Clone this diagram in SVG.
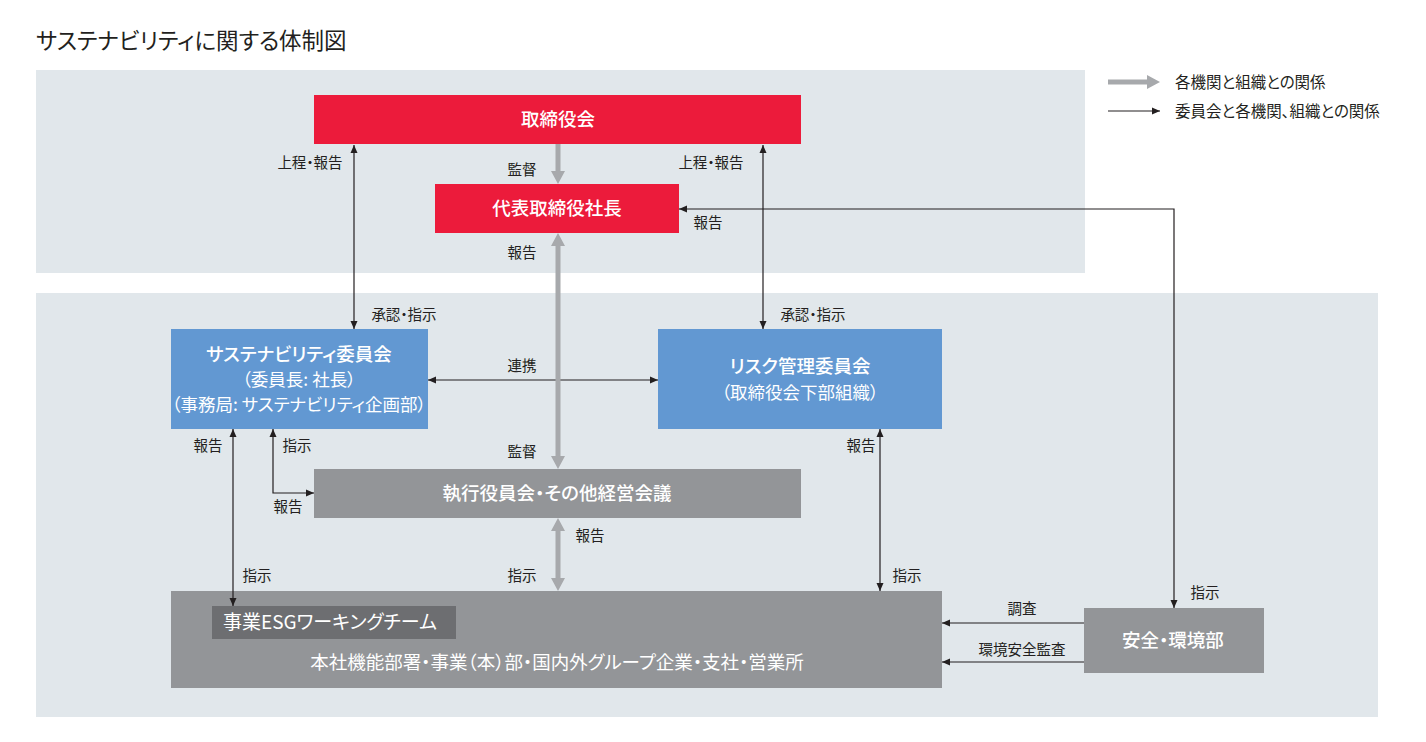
<svg xmlns="http://www.w3.org/2000/svg" width="1426" height="742" viewBox="0 0 1426 742">
<defs>
<style>
text{font-family:"Noto Sans CJK JP","Noto Sans",sans-serif;font-feature-settings:"palt";fill:#231f20}
.lbl{font-size:14.5px;text-anchor:middle}
.bt{font-size:18.5px;fill:#fff;text-anchor:middle;font-weight:500}
.bs{font-size:17.5px;fill:#fff;text-anchor:middle}
.band{fill:#e1e7eb}
.red{fill:#ec1b3b}
.blue{fill:#6298d2}
.gray{fill:#939598}
.dgray{fill:#6d6e71}
.ga{fill:#a7a9ac}
.ln{fill:none;stroke:#231f20;stroke-width:1.2}
</style>
<marker id="ah" markerUnits="userSpaceOnUse" markerWidth="9" markerHeight="8" refX="8" refY="4" orient="auto-start-reverse" viewBox="0 0 9 8">
<path d="M0,0.5 L8,4 L0,7.5 z" fill="#231f20"/>
</marker>
</defs>
<rect width="1426" height="742" fill="#fff"/>
<text x="36" y="49" style="font-size:22.5px">サステナビリティに関する体制図</text>
<rect class="band" x="36" y="70" width="1049" height="203"/>
<rect class="band" x="36" y="293" width="1342" height="424"/>

<g id="legend">
<path class="ga" d="M1108,79.5 H1147 V75 L1160,82 L1147,89 V84.5 H1108 z"/>
<text x="1175" y="88" style="font-size:15.5px">各機関と組織との関係</text>
<line class="ln" x1="1108" y1="111" x2="1160" y2="111" marker-end="url(#ah)"/>
<text x="1175" y="117" style="font-size:15.5px">委員会と各機関、組織との関係</text>
</g>

<g id="board">
<rect class="red" x="314" y="95" width="487" height="49"/>
<text class="bt" x="558" y="126">取締役会</text>
</g>
<g id="president">
<rect class="red" x="435" y="184" width="244" height="49"/>
<text class="bt" x="557" y="215">代表取締役社長</text>
</g>
<g id="sustainability-committee">
<rect class="blue" x="171" y="329" width="257" height="100"/>
<text class="bt" x="299" y="361">サステナビリティ委員会</text>
<text class="bs" x="299" y="386">（委員長: 社長）</text>
<text class="bs" x="299" y="411">（事務局: サステナビリティ企画部）</text>
</g>
<g id="risk-committee">
<rect class="blue" x="658" y="329" width="284" height="100"/>
<text class="bt" x="800" y="373">リスク管理委員会</text>
<text class="bs" x="800" y="399">（取締役会下部組織）</text>
</g>
<g id="executive-meeting">
<rect class="gray" x="314" y="469" width="487" height="49"/>
<text class="bt" x="557" y="500">執行役員会・その他経営会議</text>
</g>
<g id="business-units">
<rect class="gray" x="171" y="591" width="771" height="97"/>
<text class="bs" x="557" y="669" style="font-size:18.5px">本社機能部署・事業（本）部・国内外グループ企業・支社・営業所</text>
</g>
<g id="esg-working-team">
<rect class="dgray" x="212" y="606" width="244" height="33"/>
<text x="223" y="629" style="font-size:19px;fill:#fff">事業ESGワーキングチーム</text>
</g>
<g id="safety-environment">
<rect class="gray" x="1084" y="608" width="180" height="65"/>
<text class="bt" x="1173" y="647">安全・環境部</text>
</g>

<g id="connectors">
<line class="ln" x1="354" y1="145" x2="354" y2="329" marker-start="url(#ah)" marker-end="url(#ah)"/>
<line class="ln" x1="763" y1="145" x2="763" y2="329" marker-start="url(#ah)" marker-end="url(#ah)"/>
<path class="ln" d="M1174,608 V209 H679" marker-start="url(#ah)" marker-end="url(#ah)"/>
<line class="ln" x1="428" y1="380" x2="658" y2="380" marker-start="url(#ah)" marker-end="url(#ah)"/>
<line class="ln" x1="233" y1="429" x2="233" y2="606" marker-start="url(#ah)" marker-end="url(#ah)"/>
<path class="ln" d="M273,429 V493 H314" marker-start="url(#ah)" marker-end="url(#ah)"/>
<line class="ln" x1="880" y1="429" x2="880" y2="591" marker-start="url(#ah)" marker-end="url(#ah)"/>
<line class="ln" x1="1084" y1="623" x2="942" y2="623" marker-end="url(#ah)"/>
<line class="ln" x1="1084" y1="662" x2="942" y2="662" marker-end="url(#ah)"/>
<path class="ga" d="M555.5,144 V171 H551 L558,184 L565,171 H560.5 V144 z"/>
<path class="ga" d="M558,233 L565,246 H560.5 V456 H565 L558,469 L551,456 H555.5 V246 H551 z"/>
<path class="ga" d="M558,518 L565,531 H560.5 V578 H565 L558,591 L551,578 H555.5 V531 H551 z"/>
<text class="lbl" x="310" y="168">上程・報告</text>
<text class="lbl" x="522" y="175">監督</text>
<text class="lbl" x="711" y="168">上程・報告</text>
<text class="lbl" x="708" y="228">報告</text>
<text class="lbl" x="522" y="258">報告</text>
<text class="lbl" x="404" y="320">承認・指示</text>
<text class="lbl" x="813" y="320">承認・指示</text>
<text class="lbl" x="522" y="371">連携</text>
<text class="lbl" x="208" y="451">報告</text>
<text class="lbl" x="297" y="451">指示</text>
<text class="lbl" x="522" y="457">監督</text>
<text class="lbl" x="861" y="451">報告</text>
<text class="lbl" x="288" y="512">報告</text>
<text class="lbl" x="590" y="541">報告</text>
<text class="lbl" x="257" y="581">指示</text>
<text class="lbl" x="522" y="581">指示</text>
<text class="lbl" x="907" y="581">指示</text>
<text class="lbl" x="1205" y="598">指示</text>
<text class="lbl" x="1022" y="614">調査</text>
<text class="lbl" x="1022" y="655">環境安全監査</text>
</g>
</svg>
